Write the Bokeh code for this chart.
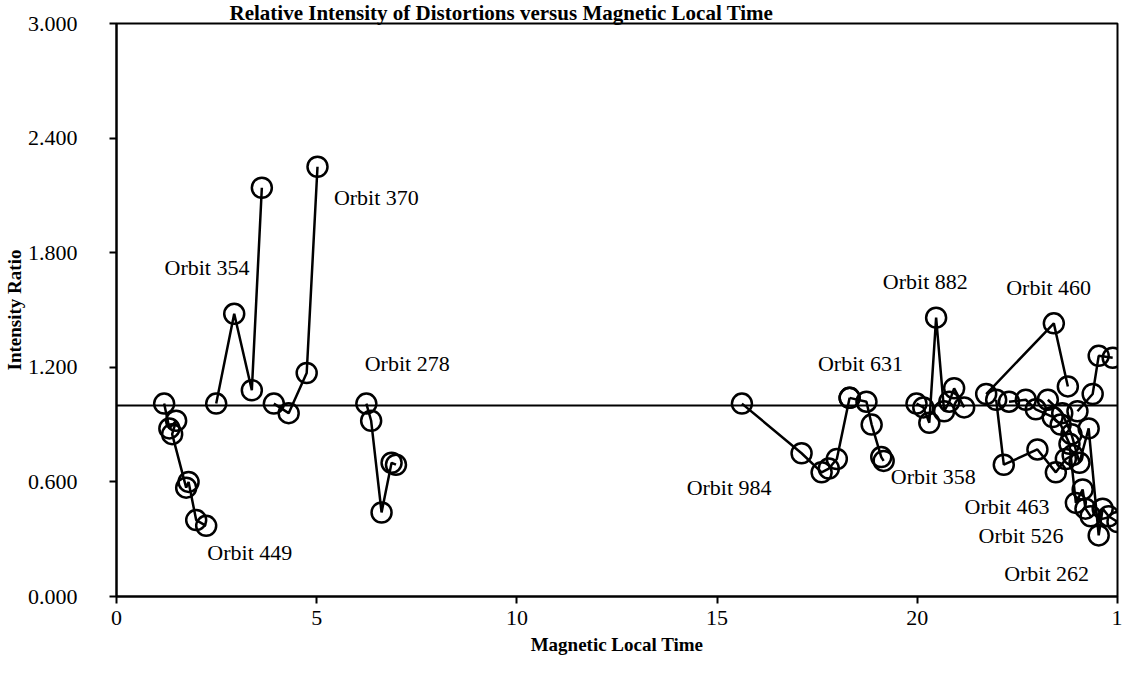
from bokeh.plotting import figure
from bokeh.models import Range1d, FixedTicker, Span, Label, Title, NumeralTickFormatter
from bokeh.embed import file_html
from bokeh.resources import INLINE

# ---- data (Magnetic Local Time, Intensity Ratio) ----
orbit449_mlt = [1.19, 1.32, 1.49, 1.39, 1.74, 1.80, 1.99, 2.24]
orbit449_ratio = [1.01, 0.88, 0.92, 0.85, 0.57, 0.60, 0.40, 0.37]

orbit354_mlt = [2.49, 2.94, 3.38, 3.63]
orbit354_ratio = [1.01, 1.48, 1.08, 2.14]

orbit370_mlt = [3.93, 4.30, 4.75, 5.02]
orbit370_ratio = [1.01, 0.96, 1.17, 2.25]

orbit278_mlt = [6.24, 6.36, 6.62, 6.87, 6.98]
orbit278_ratio = [1.01, 0.92, 0.44, 0.70, 0.69]

orbit984_mlt = [15.62, 17.11, 17.61, 17.79, 17.99, 18.31]
orbit984_ratio = [1.01, 0.75, 0.65, 0.67, 0.72, 1.04]

orbit358_mlt = [18.31, 18.73, 18.86, 19.10, 19.16]
orbit358_ratio = [1.04, 1.02, 0.90, 0.73, 0.71]

orbit882_mlt = [19.98, 20.15, 20.30, 20.47, 20.67, 20.80, 20.92, 21.17]
orbit882_ratio = [1.01, 0.99, 0.91, 1.46, 0.97, 1.02, 1.09, 0.99]

orbit460_mlt = [21.72, 23.41, 23.76]
orbit460_ratio = [1.06, 1.43, 1.10]

orbit463_mlt = [21.97, 22.16, 23.00, 23.46, 23.71, 23.88]
orbit463_ratio = [1.03, 0.69, 0.77, 0.65, 0.72, 0.74]

orbit526_mlt = [22.29, 22.71, 22.96, 23.38, 23.58, 23.80, 23.96, 24.13, 24.20, 24.33]
orbit526_ratio = [1.02, 1.03, 0.98, 0.94, 0.90, 0.80, 0.49, 0.56, 0.46, 0.42]

orbit262_mlt = [23.26, 23.62, 23.85, 24.05, 24.28, 24.53, 24.63, 24.78, 25.00]
orbit262_ratio = [1.03, 0.96, 0.85, 0.70, 0.88, 0.32, 0.46, 0.42, 0.39]

orbitx_mlt = [24.00, 24.38, 24.53, 24.88]
orbitx_ratio = [0.97, 1.06, 1.26, 1.25]

series = [
    (orbit449_mlt, orbit449_ratio), (orbit354_mlt, orbit354_ratio),
    (orbit370_mlt, orbit370_ratio), (orbit278_mlt, orbit278_ratio),
    (orbit984_mlt, orbit984_ratio), (orbit358_mlt, orbit358_ratio),
    (orbit882_mlt, orbit882_ratio), (orbit460_mlt, orbit460_ratio),
    (orbit463_mlt, orbit463_ratio), (orbit526_mlt, orbit526_ratio),
    (orbit262_mlt, orbit262_ratio), (orbitx_mlt, orbitx_ratio),
]

label_texts = ["Orbit 354", "Orbit 370", "Orbit 449", "Orbit 278", "Orbit 984",
               "Orbit 631", "Orbit 882", "Orbit 460", "Orbit 358", "Orbit 463",
               "Orbit 526", "Orbit 262"]
label_mlt = [2.26, 6.49, 3.33, 7.26, 15.30, 18.58, 20.20, 23.28, 20.40, 22.24, 22.59, 23.23]
label_ratio = [1.72, 2.09, 0.23, 1.22, 0.57, 1.22, 1.65, 1.62, 0.63, 0.47, 0.32, 0.12]

x_ticks = [0, 5, 10, 15, 20, 25]
y_ticks = [0.0, 0.6, 1.2, 1.8, 2.4, 3.0]
reference_level = 1.0

FONT = "Liberation Serif"

p = figure(width=1122, height=683, output_backend="svg", toolbar_location=None,
           x_range=Range1d(0, 25), y_range=Range1d(0, 3),
           min_border_left=112, min_border_right=5, min_border_top=20, min_border_bottom=87)
p.grid.visible = False
p.outline_line_color = "black"
p.outline_line_width = 2
p.background_fill_color = "white"
p.border_fill_color = "white"

p.add_layout(Title(text="Relative Intensity of Distortions versus Magnetic Local Time",
                   align="left", offset=113, standoff=-3, text_font=FONT,
                   text_font_size="21px", text_font_style="bold", text_color="black"), "above")

p.add_layout(Span(location=reference_level, dimension="width", line_color="black", line_width=2))

for xs, ys in series:
    p.line(xs, ys, line_color="black", line_width=2.5)
    p.scatter(xs, ys, marker="circle", size=20, fill_color=None, line_color="black", line_width=2.5)

for t, x, y in zip(label_texts, label_mlt, label_ratio):
    p.add_layout(Label(x=x, y=y, text=t, text_align="center", text_baseline="middle",
                       text_font=FONT, text_font_size="22px", text_color="black"))

for ax in (p.xaxis[0], p.yaxis[0]):
    ax.axis_line_color = "black"
    ax.axis_line_width = 2
    ax.major_tick_line_width = 2
    ax.major_tick_in = 0
    ax.major_tick_out = 7
    ax.minor_tick_line_color = None
    ax.major_label_text_font = FONT
    ax.major_label_text_font_size = "22px"
    ax.major_label_text_color = "black"
    ax.axis_label_text_font = FONT
    ax.axis_label_text_font_size = "19px"
    ax.axis_label_text_font_style = "bold"
    ax.axis_label_text_color = "black"

p.xaxis.ticker = FixedTicker(ticks=x_ticks)
p.xaxis.major_label_overrides = {25: "1"}
p.xaxis.axis_label = "Magnetic Local Time"
p.xaxis.major_label_standoff = 7
p.xaxis.axis_label_standoff = 6

p.yaxis.ticker = FixedTicker(ticks=y_ticks)
p.yaxis.formatter = NumeralTickFormatter(format="0.000")
p.yaxis.axis_label = "Intensity Ratio"
p.yaxis.major_label_standoff = 32
p.yaxis.axis_label_standoff = 0

open("out.html", "w").write(file_html(p, INLINE))
